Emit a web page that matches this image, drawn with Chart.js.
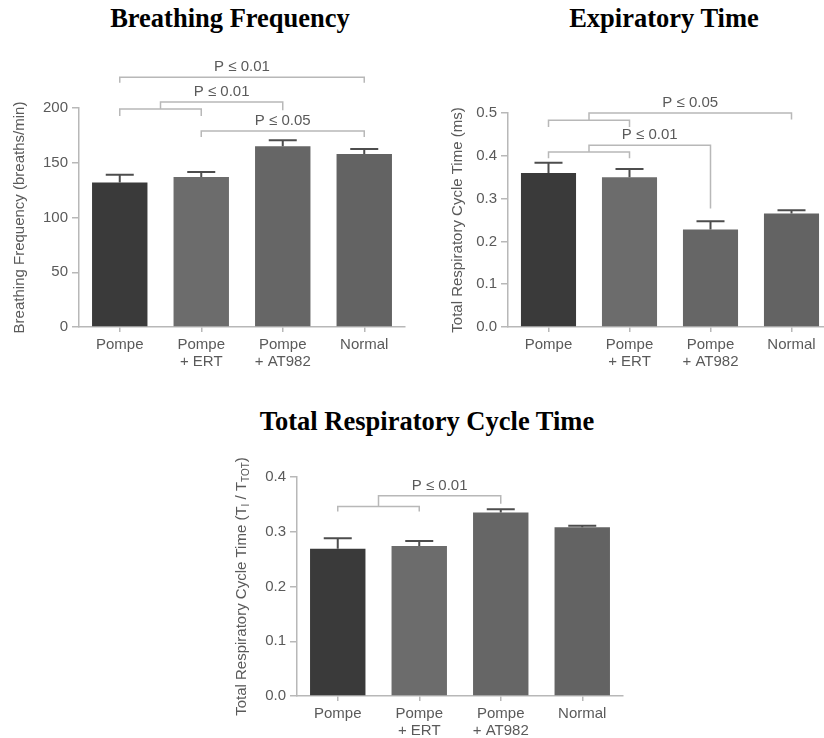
<!DOCTYPE html>
<html>
<head>
<meta charset="utf-8">
<script src="https://cdn.jsdelivr.net/npm/chart.js@4.4.1/dist/chart.umd.min.js"></script>
<style>
  html, body { margin: 0; padding: 0; background: #fff; overflow: hidden; }
  body { width: 824px; height: 738px; position: relative; }
  .title {
    position: absolute; width: 400px; text-align: center; white-space: nowrap;
    font: bold 26.5px "Liberation Serif", "Times New Roman", serif; line-height: 26.5px; color: #000;
  }
  canvas { position: absolute; }
</style>
</head>
<body>
<div class="title" style="left:30px; top:5px;">Breathing Frequency</div>
<div class="title" style="left:464px; top:5px;">Expiratory Time</div>
<div class="title" style="left:227px; top:408px;">Total Respiratory Cycle Time</div>

<canvas id="chart-freq" width="412" height="332" style="left:0px; top:40px;"></canvas>
<canvas id="chart-exp" width="412" height="332" style="left:420px; top:40px;"></canvas>
<canvas id="chart-cycle" width="420" height="321" style="left:210px; top:420px;"></canvas>

<script>
const categories = [["Pompe"], ["Pompe", "+ ERT"], ["Pompe", "+ AT982"], ["Normal"]];
const barColors = ["#3a3a3a", "#6c6c6c", "#666666", "#636363"];

// breathing frequency (breaths/min)
const freqMeans = [132, 137, 165, 158];
const freqErrors = [7, 4.5, 5.5, 4.5];
const freqTicks = [0, 50, 100, 150, 200];
const freqBrackets = [
  { from: 0, to: 3, y: 228, drop: 223, label: "P \u2264 0.01" },
  { group: [0, 1], groupY: 199, groupDrop: 192.7, to: 2, y: 205.5, drop: 198, label: "P \u2264 0.01" },
  { from: 1, to: 3, y: 179, drop: 173.5, label: "P \u2264 0.05" },
];

// expiratory time (ms)
const expMeans = [0.36, 0.35, 0.228, 0.265];
const expErrors = [0.024, 0.019, 0.019, 0.008];
const expTicks = [0, 0.1, 0.2, 0.3, 0.4, 0.5];
const expBrackets = [
  { group: [0, 1], groupY: 0.483, groupDrop: 0.467, to: 3, y: 0.5, drop: 0.485, label: "P \u2264 0.05" },
  { group: [0, 1], groupY: 0.409, groupDrop: 0.394, to: 2, y: 0.4245, drop: 0.2766, label: "P \u2264 0.01" },
];

// total respiratory cycle time (Ti / Ttot)
const cycleMeans = [0.269, 0.274, 0.335, 0.308];
const cycleErrors = [0.019, 0.009, 0.006, 0.003];
const cycleTicks = [0, 0.1, 0.2, 0.3, 0.4];
const cycleBrackets = [
  { group: [0, 1], groupY: 0.3462, groupDrop: 0.337, to: 2, y: 0.3658, drop: 0.351, label: "P \u2264 0.01" },
];

const FONT = "'Liberation Sans', Arial, sans-serif";
const TEXT = "#5a5a5a";
const LINE = "#b8b8b8";

const extras = {
  id: "extras",
  afterDatasetsDraw(chart, args, opts) {
    const ctx = chart.ctx;
    const xs = chart.scales.x;
    const ys = chart.scales.y;
    const px = (i) => xs.getPixelForValue(i);
    const py = (v) => ys.getPixelForValue(v);
    const values = chart.data.datasets[0].data;
    ctx.save();

    // error bars (upper half only, the lower one is hidden by the bar)
    ctx.lineWidth = 2;
    opts.errors.forEach((e, i) => {
      const cx = px(i);
      const top = py(values[i] + e);
      ctx.strokeStyle = "#4d4d4d";
      ctx.beginPath();
      ctx.moveTo(cx, py(values[i]));
      ctx.lineTo(cx, top);
      ctx.moveTo(cx - 14, top);
      ctx.lineTo(cx + 14, top);
      ctx.stroke();
    });

    // significance brackets
    ctx.strokeStyle = LINE;
    ctx.lineWidth = 1.5;
    ctx.fillStyle = TEXT;
    ctx.font = "15px " + FONT;
    ctx.textAlign = "center";
    ctx.textBaseline = "middle";
    opts.brackets.forEach((b) => {
      let x0;
      ctx.beginPath();
      if (b.group) {
        const a = px(b.group[0]);
        const c = px(b.group[1]);
        ctx.moveTo(a, py(b.groupDrop));
        ctx.lineTo(a, py(b.groupY));
        ctx.lineTo(c, py(b.groupY));
        ctx.lineTo(c, py(b.groupDrop));
        x0 = (a + c) / 2;
        ctx.moveTo(x0, py(b.groupY));
        ctx.lineTo(x0, py(b.y));
      } else {
        x0 = px(b.from);
        ctx.moveTo(x0, py(b.drop));
        ctx.lineTo(x0, py(b.y));
      }
      const x1 = px(b.to);
      ctx.lineTo(x1, py(b.y));
      ctx.lineTo(x1, py(b.drop));
      ctx.stroke();
      ctx.fillText(b.label, (x0 + x1) / 2, py(b.y) - 10);
    });

    // y axis title, drawn by hand so it can carry subscripts
    const area = chart.chartArea;
    ctx.translate(area.left - opts.titleOffset, (area.top + area.bottom) / 2);
    ctx.rotate(-Math.PI / 2);
    ctx.textAlign = "left";
    const parts = opts.yTitle.map((p) => {
      ctx.font = (p.sub ? "10px " : "15px ") + FONT;
      return { ...p, w: ctx.measureText(p.t).width };
    });
    let cur = -parts.reduce((s, p) => s + p.w, 0) / 2;
    parts.forEach((p) => {
      ctx.font = (p.sub ? "10px " : "15px ") + FONT;
      ctx.fillText(p.t, cur, p.sub ? 4 : 0);
      cur += p.w;
    });
    ctx.restore();
  },
};

function createChart(id, means, errors, ticks, brackets, yTitle, opts) {
  const ctx = document.getElementById(id).getContext("2d");
  return new Chart(ctx, {
    type: "bar",
    data: {
      labels: categories,
      datasets: [
        {
          data: means,
          backgroundColor: barColors,
          borderWidth: 0,
          barPercentage: 0.68,
          categoryPercentage: 1,
        },
      ],
    },
    plugins: [extras],
    options: {
      responsive: false,
      animation: false,
      events: [],
      layout: { padding: { top: opts.top, right: opts.right, left: 0, bottom: 0 } },
      plugins: {
        legend: { display: false },
        tooltip: { enabled: false },
        extras: { errors: errors, brackets: brackets, yTitle: yTitle, titleOffset: opts.titleOffset },
      },
      scales: {
        x: {
          grid: { offset: false, drawOnChartArea: false, tickLength: 5, color: LINE, lineWidth: 1.5 },
          border: { color: LINE, width: 1.5 },
          ticks: { color: TEXT, padding: 5, font: { family: FONT, size: 15, lineHeight: 1.1 } },
          afterFit: (s) => { s.height = 45; },
        },
        y: {
          min: ticks[0],
          max: ticks[ticks.length - 1],
          afterBuildTicks: (s) => { s.ticks = ticks.map((v) => ({ value: v })); },
          grid: { drawOnChartArea: false, tickLength: 7, color: LINE, lineWidth: 1.5 },
          border: { color: LINE, width: 1.5 },
          ticks: {
            color: TEXT,
            padding: 4,
            font: { family: FONT, size: 15 },
            callback: (v) => (opts.decimals ? Number(v).toFixed(opts.decimals) : v),
          },
          afterFit: (s) => { s.width = opts.axisWidth; },
        },
      },
    },
  });
}

createChart("chart-freq", freqMeans, freqErrors, freqTicks, freqBrackets,
  [{ t: "Breathing Frequency (breaths/min)" }],
  { top: 68, right: 7, axisWidth: 79, titleOffset: 59, decimals: 0 });

createChart("chart-exp", expMeans, expErrors, expTicks, expBrackets,
  [{ t: "Total Respiratory Cycle Time (ms)" }],
  { top: 73, right: 0, axisWidth: 88, titleOffset: 50, decimals: 1 });

createChart("chart-cycle", cycleMeans, cycleErrors, cycleTicks, cycleBrackets,
  [{ t: "Total Respiratory Cycle Time (T" }, { t: "I", sub: true }, { t: " / T" }, { t: "TOT", sub: true }, { t: ")" }],
  { top: 57, right: 7, axisWidth: 87, titleOffset: 55, decimals: 1 });
</script>
</body>
</html>
